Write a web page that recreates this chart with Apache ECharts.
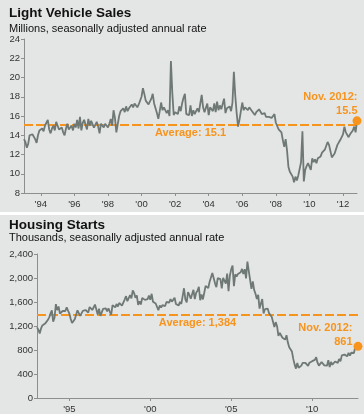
<!DOCTYPE html>
<html>
<head>
<meta charset="utf-8">
<script src="https://cdn.jsdelivr.net/npm/echarts@6/dist/echarts.min.js"></script>
<style>
html,body{margin:0;padding:0;background:#e4e5e5;}
#c{width:364px;height:414px;}
</style>
</head>
<body>
<div id="c"></div>
<script>
// Monthly categories Jan 1993 .. Nov 2012
const months = [];
for (let y = 1993; y <= 2012; y++) {
  for (let m = 1; m <= 12; m++) {
    if (y === 2012 && m > 11) break;
    months.push(y + '-' + (m < 10 ? '0' + m : m));
  }
}

// Light vehicle sales, millions SAAR
const vehicleSales = [
  13.6, 13.3, 12.7, 13.1, 14.0, 14.2, 14.1, 14.2, 13.6, 13.2, 14.0, 14.5, // 1993
  14.5, 14.7, 14.4, 15.0, 15.3, 15.6, 14.6, 14.2, 14.7, 15.0, 14.5, 15.4, // 1994
  15.2, 14.6, 14.4, 14.8, 14.3, 14.0, 14.7, 15.2, 14.6, 14.4, 15.0, 14.5, // 1995
  15.2, 14.8, 15.6, 14.7, 15.9, 14.5, 15.3, 15.6, 15.1, 14.6, 15.7, 15.0, // 1996
  15.5, 15.3, 14.8, 15.0, 15.4, 14.9, 14.2, 15.2, 15.4, 14.8, 15.2, 15.0, // 1997
  14.8, 15.2, 15.7, 15.0, 16.6, 15.8, 14.3, 14.2, 16.0, 16.5, 16.3, 16.8, // 1998
  16.4, 17.0, 16.5, 16.8, 16.6, 17.2, 16.9, 17.3, 17.1, 16.9, 17.2, 17.1, // 1999
  18.0, 18.9, 18.3, 17.6, 17.4, 17.2, 17.3, 17.8, 18.3, 17.3, 16.8, 16.3, // 2000
  15.7, 16.5, 17.4, 16.6, 16.9, 16.7, 16.3, 16.6, 16.0, 21.7, 18.4, 16.1, // 2001
  16.4, 16.6, 16.2, 17.0, 16.5, 17.3, 17.9, 18.3, 16.2, 16.0, 16.1, 17.1, // 2002
  16.0, 16.6, 16.2, 16.5, 16.8, 16.4, 17.3, 18.2, 16.9, 16.4, 16.6, 17.3, // 2003
  16.1, 16.9, 17.1, 16.5, 17.3, 16.4, 17.5, 16.6, 17.1, 16.7, 16.9, 17.8, // 2004
  16.3, 16.8, 16.6, 17.0, 16.5, 17.4, 20.6, 18.1, 16.3, 14.9, 15.6, 16.5, // 2005
  17.4, 16.6, 16.9, 16.7, 16.6, 16.9, 16.8, 16.5, 16.3, 16.1, 16.4, 16.6, // 2006
  16.7, 16.5, 16.2, 16.1, 16.3, 15.9, 16.0, 15.9, 16.1, 15.8, 15.9, 16.2, // 2007
  15.3, 15.1, 14.6, 14.5, 14.3, 13.5, 12.8, 13.6, 12.4, 10.7, 10.2, 10.3, // 2008
  9.7, 9.1, 9.7, 9.3, 9.8, 9.7, 11.2, 14.4, 9.2, 10.4, 10.8, 11.1,       // 2009
  10.9, 10.4, 11.6, 11.2, 11.5, 11.1, 11.6, 11.5, 11.8, 12.2, 12.2, 12.5, // 2010
  12.6, 13.3, 13.0, 13.0, 11.7, 11.5, 12.1, 12.1, 13.0, 13.2, 13.5, 13.5, // 2011
  14.1, 14.9, 14.3, 14.4, 13.8, 14.1, 14.1, 14.5, 14.9, 14.3, 15.5        // 2012
];

// Housing starts, thousands SAAR
const housingStarts = [
  1177, 1138, 1075, 1160, 1209, 1214, 1240, 1268, 1300, 1340, 1405, 1460, // 1993
  1272, 1337, 1564, 1465, 1526, 1409, 1439, 1450, 1474, 1450, 1511, 1455, // 1994
  1407, 1316, 1249, 1267, 1314, 1281, 1461, 1416, 1369, 1369, 1452, 1431, // 1995
  1467, 1491, 1424, 1516, 1504, 1467, 1472, 1557, 1475, 1392, 1489, 1370, // 1996
  1355, 1486, 1457, 1492, 1442, 1494, 1437, 1390, 1546, 1520, 1510, 1566, // 1997
  1525, 1584, 1567, 1540, 1536, 1641, 1698, 1614, 1582, 1715, 1660, 1792, // 1998
  1748, 1670, 1710, 1553, 1611, 1559, 1669, 1648, 1635, 1608, 1648, 1708, // 1999
  1636, 1737, 1604, 1626, 1575, 1559, 1463, 1541, 1507, 1549, 1551, 1532, // 2000
  1600, 1625, 1590, 1649, 1605, 1636, 1670, 1567, 1562, 1540, 1602, 1568, // 2001
  1698, 1829, 1642, 1592, 1764, 1717, 1655, 1633, 1804, 1648, 1753, 1788, // 2002
  1853, 1629, 1726, 1643, 1751, 1867, 1897, 1833, 1939, 1967, 2083, 2057, // 2003
  1911, 1846, 1998, 2003, 1981, 1828, 2002, 2024, 1905, 2072, 1782, 2042, // 2004
  2144, 2207, 1864, 2061, 2025, 2068, 2054, 2095, 2151, 2065, 2147, 1994, // 2005
  2273, 2119, 1969, 1821, 1942, 1802, 1737, 1650, 1720, 1491, 1570, 1649, // 2006
  1409, 1480, 1495, 1490, 1415, 1448, 1354, 1330, 1183, 1264, 1197, 1037, // 2007
  1084, 1103, 1005, 1013, 973, 1046, 923, 844, 820, 777, 652, 560,         // 2008
  490, 582, 505, 478, 540, 585, 594, 586, 585, 534, 588, 581,              // 2009
  614, 604, 636, 679, 588, 539, 546, 599, 594, 543, 545, 539,              // 2010
  630, 517, 600, 554, 561, 608, 623, 585, 650, 610, 711, 694,              // 2011
  723, 704, 695, 753, 708, 754, 728, 750, 854, 864, 861                    // 2012
];

const vehicleAverage = 15.1;
const housingAverage = 1384;
const topTickYears = ['1994', '1996', '1998', '2000', '2002', '2004', '2006', '2008', '2010', '2012'];
const bottomTickYears = ['1995', '2000', '2005', '2010'];

const ORANGE = '#f7941d';
const LINE = '#6e7975';
const AXIS = '#8e8e8e';
const NARROW = "'Liberation Sans Narrow', 'Arial Narrow', 'Liberation Sans', sans-serif";
const BOLD = "'Liberation Sans', Arial, sans-serif";

function tickFn(years) {
  return function (idx, val) {
    return val.slice(5) === '01' && years.indexOf(val.slice(0, 4)) >= 0;
  };
}

function xAxisCfg(gridIndex, years) {
  return {
    type: 'category', gridIndex, data: months, boundaryGap: false,
    axisLine: { lineStyle: { color: AXIS, width: 1 } },
    axisTick: { interval: tickFn(years), length: 3, lineStyle: { color: AXIS } },
    axisLabel: {
      interval: tickFn(years), margin: 6, fontSize: 9.5, color: '#333', fontFamily: NARROW,
      formatter: v => "'" + v.slice(2, 4)
    },
    splitLine: { show: false }
  };
}

function yAxisCfg(gridIndex, min, max, interval, fmt) {
  return {
    type: 'value', gridIndex, min, max, interval,
    axisLine: { show: true, lineStyle: { color: AXIS, width: 1 } },
    axisTick: { show: true, length: 3, lineStyle: { color: AXIS } },
    axisLabel: { fontSize: 9.5, color: '#333', fontFamily: NARROW, margin: 4, formatter: fmt },
    splitLine: { show: false }
  };
}

const chart = echarts.init(document.getElementById('c'), null, { renderer: 'canvas' });
chart.setOption({
  backgroundColor: '#e4e5e5',
  animation: false,
  title: [
    { text: 'Light Vehicle Sales', left: 9, top: 6, padding: 0,
      textStyle: { fontSize: 13.5, fontWeight: 'bold', color: '#111', fontFamily: BOLD } },
    { text: 'Millions, seasonally adjusted annual rate', left: 9, top: 23, padding: 0,
      textStyle: { fontSize: 11, fontWeight: 'normal', color: '#111', fontFamily: NARROW } },
    { text: 'Housing Starts', left: 9, top: 218, padding: 0,
      textStyle: { fontSize: 13.5, fontWeight: 'bold', color: '#111', fontFamily: BOLD } },
    { text: 'Thousands, seasonally adjusted annual rate', left: 9, top: 232, padding: 0,
      textStyle: { fontSize: 11, fontWeight: 'normal', color: '#111', fontFamily: NARROW } }
  ],
  graphic: [
    { type: 'rect', left: 0, top: 212, shape: { width: 364, height: 3 }, style: { fill: '#ffffff' }, silent: true }
  ],
  grid: [
    { left: 24, right: 7, top: 39, bottom: 221, containLabel: false },
    { left: 37, right: 6, top: 254, bottom: 15, containLabel: false }
  ],
  xAxis: [xAxisCfg(0, topTickYears), xAxisCfg(1, bottomTickYears)],
  yAxis: [
    yAxisCfg(0, 8, 24, 2, v => String(v)),
    yAxisCfg(1, 0, 2400, 400, v => v.toLocaleString('en-US'))
  ],
  series: [
    {
      type: 'line', xAxisIndex: 0, yAxisIndex: 0, data: vehicleSales,
      showSymbol: false, lineStyle: { color: LINE, width: 1.8 }, itemStyle: { color: LINE },
      z: 3,
      markLine: {
        silent: true, symbol: 'none', z: 2,
        lineStyle: { color: ORANGE, type: [9, 3], width: 2 },
        label: { position: 'insideMiddleBottom', formatter: 'Average: 15.1', color: ORANGE,
          fontWeight: 'bold', fontSize: 11, fontFamily: BOLD, distance: 3 },
        data: [{ yAxis: vehicleAverage }]
      },
      markPoint: {
        symbol: 'circle', symbolSize: 9, silent: true,
        itemStyle: { color: ORANGE },
        label: { show: true, formatter: 'Nov. 2012:\n15.5', position: [5, 2], align: 'right',
          verticalAlign: 'bottom', color: ORANGE, fontWeight: 'bold', fontSize: 11,
          lineHeight: 14.5, fontFamily: BOLD },
        data: [{ coord: [months.length - 1, vehicleSales[vehicleSales.length - 1]] }]
      }
    },
    {
      type: 'line', xAxisIndex: 1, yAxisIndex: 1, data: housingStarts,
      showSymbol: false, lineStyle: { color: LINE, width: 1.8 }, itemStyle: { color: LINE },
      z: 3,
      markLine: {
        silent: true, symbol: 'none', z: 2,
        lineStyle: { color: ORANGE, type: [9, 3], width: 2 },
        label: { position: 'insideMiddleBottom', formatter: 'Average: 1,384', color: ORANGE,
          fontWeight: 'bold', fontSize: 11, fontFamily: BOLD, distance: 3 },
        data: [{ yAxis: housingAverage }]
      },
      markPoint: {
        symbol: 'circle', symbolSize: 9, silent: true,
        itemStyle: { color: ORANGE },
        label: { show: true, formatter: 'Nov. 2012:\n861', position: [-1, 7], align: 'right',
          verticalAlign: 'bottom', color: ORANGE, fontWeight: 'bold', fontSize: 11,
          lineHeight: 14, fontFamily: BOLD },
        data: [{ coord: [months.length - 1, housingStarts[housingStarts.length - 1]] }]
      }
    }
  ]
});
</script>
</body>
</html>
